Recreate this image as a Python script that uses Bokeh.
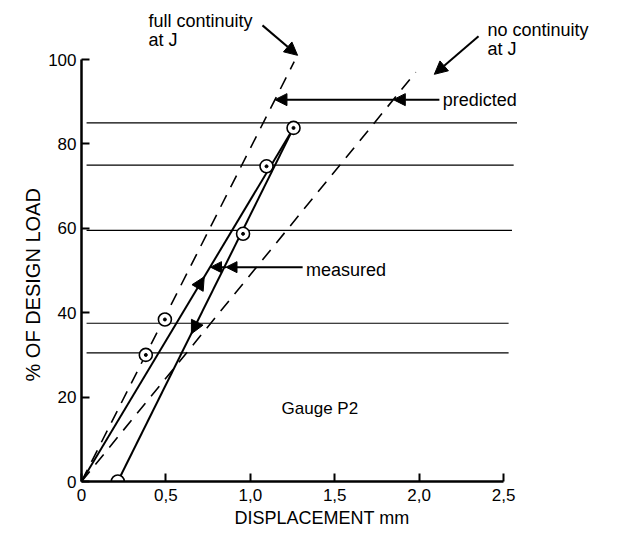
import math
from bokeh.plotting import figure
from bokeh.models import Range1d, FixedTicker, Arrow, NormalHead, Label, Title
from bokeh.embed import file_html
from bokeh.resources import INLINE

FONT = "Liberation Sans"

# ---- data ----
x_ticks = [0, 0.5, 1.0, 1.5, 2.0, 2.5]
x_tick_labels = ["0", "0,5", "1,0", "1,5", "2,0", "2,5"]
y_ticks = [0, 20, 40, 60, 80, 100]

load_levels = [85, 75, 59.5, 37.5, 30.5]
level_x_start = [0.03, 0.03, 0.03, 0.03, 0.03]
level_x_end = [2.58, 2.56, 2.55, 2.53, 2.53]

point_disp = [0.215, 0.381, 0.494, 0.957, 1.096, 1.256]
point_load = [0, 30.0, 38.4, 58.7, 74.7, 83.8]
point_has_dot = [False, True, True, True, True, True]

loading_disp = [0, 1.256]
loading_load = [0, 83.8]
unloading_disp = [1.256, 0.215]
unloading_load = [83.8, 0]

full_cont_disp = [0, 1.26]
full_cont_load = [0, 99.5]
no_cont_disp = [0, 1.98]
no_cont_load = [0, 97.0]

# ---- figure ----
p = figure(frame_width=524, frame_height=473,
           x_range=Range1d(0, 3.104), y_range=Range1d(0, 112.1),
           output_backend="svg", toolbar_location=None,
           min_border_left=81, min_border_right=0,
           min_border_top=8, min_border_bottom=0)
p.grid.visible = False
p.outline_line_color = None
p.background_fill_color = "white"

xa = p.xaxis[0]
xa.ticker = FixedTicker(ticks=x_ticks)
xa.major_label_overrides = {float(t): l for t, l in zip(x_ticks, x_tick_labels)}
xa.bounds = (0, 2.5)
ya = p.yaxis[0]
ya.ticker = FixedTicker(ticks=y_ticks)
ya.bounds = (0, 100)
for ax in (xa, ya):
    ax.axis_line_width = 2.5
    ax.axis_line_color = "black"
    ax.major_tick_in = 8
    ax.major_tick_out = 0
    ax.major_tick_line_width = 2
    ax.major_tick_line_color = "black"
    ax.minor_tick_line_color = None
    ax.major_label_text_font = FONT
    ax.major_label_text_font_size = "17px"
    ax.major_label_text_color = "black"
xa.major_label_standoff = 7
ya.major_label_standoff = 5

# axis titles, positioned like in the reference
p.add_layout(Title(text="DISPLACEMENT mm", align="left", offset=153, standoff=4,
                   text_font=FONT, text_font_size="18px", text_font_style="normal",
                   text_color="black"), "below")
p.add_layout(Title(text="% OF DESIGN LOAD", align="left", offset=100, standoff=4,
                   text_font=FONT, text_font_size="20px", text_font_style="normal",
                   text_color="black"), "left")

# load level lines
p.segment(x0=level_x_start, y0=load_levels, x1=level_x_end, y1=load_levels,
          line_color="black", line_width=1.2)

# predicted lines
p.line(full_cont_disp, full_cont_load, line_color="black", line_width=1.6, line_dash="13 9")
p.line(no_cont_disp, no_cont_load, line_color="black", line_width=1.6, line_dash="13 9")

# measured lines
p.line(loading_disp, loading_load, line_color="black", line_width=2)
p.line(unloading_disp, unloading_load, line_color="black", line_width=2)

p.scatter(point_disp, point_load, size=13, marker="circle",
          fill_color="white", line_color="black", line_width=1.6)
dx = [x for x, d in zip(point_disp, point_has_dot) if d]
dy = [y for y, d in zip(point_load, point_has_dot) if d]
p.scatter(dx, dy, size=3, marker="circle", fill_color="black", line_color="black")

def head(size):
    return NormalHead(size=size, fill_color="black", line_color="black", line_width=1)

# direction arrows on measured path
p.add_layout(Arrow(end=head(13), x_start=0.66, y_start=44, x_end=0.727, y_end=48.5,
                   line_alpha=0))
p.add_layout(Arrow(end=head(13), x_start=0.714, y_start=40, x_end=0.651, y_end=35,
                   line_alpha=0))

# predicted pointer
p.add_layout(Arrow(end=head(12), x_start=2.12, y_start=90.5, x_end=1.847, y_end=90.5,
                   line_width=2))
p.add_layout(Arrow(end=head(12), x_start=1.847, y_start=90.5, x_end=1.146, y_end=90.5,
                   line_width=2))
# measured pointer
p.add_layout(Arrow(end=head(11), x_start=1.31, y_start=50.8, x_end=0.856, y_end=50.8,
                   line_width=2))
p.add_layout(Arrow(end=head(11), x_start=0.856, y_start=50.8, x_end=0.764, y_end=50.8,
                   line_width=2))
# continuity pointers
p.add_layout(Arrow(end=head(13), x_start=1.072, y_start=108.1, x_end=1.28, y_end=101,
                   line_width=2))
p.add_layout(Arrow(end=head(13), x_start=2.352, y_start=105.5, x_end=2.09, y_end=96.5,
                   line_width=2))

def label(x, y, text, size="18px", align="left", angle=0):
    p.add_layout(Label(x=x, y=y, text=text, text_font=FONT, text_font_size=size,
                       text_align=align, text_baseline="middle", text_color="black",
                       angle=angle))

label(0.397, 109.2, "full continuity")
label(0.397, 104.7, "at J")
label(2.405, 106.9, "no continuity")
label(2.405, 102.6, "at J")
label(2.14, 90.3, "predicted")
label(1.33, 50.2, "measured")
label(1.185, 17.3, "Gauge P2", size="17px")

open("out.html", "w").write(file_html(p, INLINE))
